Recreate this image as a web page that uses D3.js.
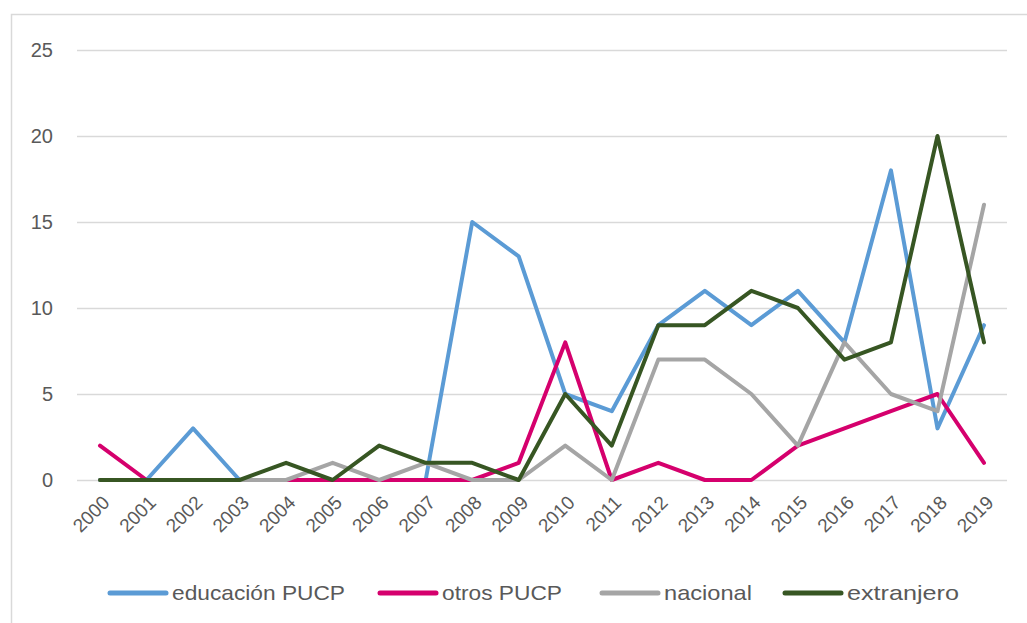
<!DOCTYPE html>
<html>
<head>
<meta charset="utf-8">
<script src="https://cdn.jsdelivr.net/npm/d3@7"></script>
<style>
  body { margin: 0; background: #fff; }
  svg { display: block; }
  text { font-family: "Liberation Sans", "DejaVu Sans", sans-serif; fill: #595959; }
</style>
</head>
<body>
<svg id="chart" width="1027" height="623"></svg>
<script>
// datos
const years = ["2000","2001","2002","2003","2004","2005","2006","2007","2008","2009",
               "2010","2011","2012","2013","2014","2015","2016","2017","2018","2019"];
const educacionPUCP = [0,0,3,0,0,0,0,0,15,13,5,4,9,11,9,11,8,18,3,9];
const otrosPUCP     = [2,0,0,0,0,0,0,0,0,1,8,0,1,0,0,2,3,4,5,1];
const nacional      = [0,0,0,0,0,1,0,1,0,0,2,0,7,7,5,2,8,5,4,16];
const extranjero    = [0,0,0,0,1,0,2,1,1,0,5,2,9,9,11,10,7,8,20,8];
const yTicks = [0,5,10,15,20,25];

const series = [
  { name: "educación PUCP", values: educacionPUCP, color: "#5B9BD5" },
  { name: "otros PUCP", values: otrosPUCP, color: "#D5006D" },
  { name: "nacional", values: nacional, color: "#A5A5A5" },
  { name: "extranjero", values: extranjero, color: "#375623" }
];

const svg = d3.select("#chart");

// marco del gráfico
svg.append("rect")
  .attr("x", 11.5).attr("y", 14.5)
  .attr("width", 1040).attr("height", 700)
  .attr("fill", "none").attr("stroke", "#D9D9D9").attr("stroke-width", 1.5);

const x = d3.scalePoint().domain(years).range([100, 984]);
const y = d3.scaleLinear().domain([0, 25]).range([480, 50]);

// líneas de cuadrícula
svg.append("g")
  .selectAll("line")
  .data(yTicks)
  .join("line")
  .attr("x1", 77).attr("x2", 1007)
  .attr("y1", d => y(d) + 0.5).attr("y2", d => y(d) + 0.5)
  .attr("stroke", "#D9D9D9").attr("stroke-width", 1.3);

// etiquetas eje y
svg.append("g")
  .selectAll("text")
  .data(yTicks)
  .join("text")
  .attr("x", 53).attr("y", d => y(d))
  .attr("dy", "0.35em")
  .attr("text-anchor", "end")
  .style("font-size", "20px")
  .text(d => d);

// etiquetas eje x (rotadas)
svg.append("g")
  .selectAll("text")
  .data(years)
  .join("text")
  .attr("transform", d => `translate(${x(d) + 6},${499}) rotate(-45)`)
  .attr("text-anchor", "end")
  .attr("dy", "0.35em")
  .style("font-size", "19px")
  .text(d => d);

// series
const line = d3.line()
  .x((d, i) => x(years[i]))
  .y(d => y(d))
  .curve(d3.curveLinear);

svg.append("g")
  .selectAll("path")
  .data(series)
  .join("path")
  .attr("d", d => line(d.values))
  .attr("fill", "none")
  .attr("stroke", d => d.color)
  .attr("stroke-width", 4)
  .attr("stroke-linejoin", "round")
  .attr("stroke-linecap", "round");

// leyenda
const legendPos = [108, 378, 600, 783];
const legendWidth = [173, 120, 88, 112];
const legend = svg.append("g");
series.forEach((s, i) => {
  const g = legend.append("g").attr("transform", `translate(${legendPos[i]},593)`);
  g.append("line")
    .attr("x1", 2).attr("x2", 58)
    .attr("stroke", s.color).attr("stroke-width", 5)
    .attr("stroke-linecap", "round");
  g.append("text")
    .attr("x", 64).attr("dy", "0.35em")
    .attr("textLength", legendWidth[i])
    .attr("lengthAdjust", "spacingAndGlyphs")
    .style("font-size", "21px")
    .text(s.name);
});
</script>
</body>
</html>
